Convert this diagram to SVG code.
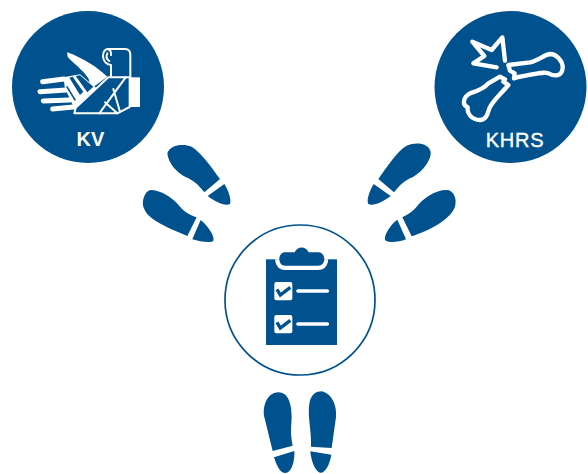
<svg xmlns="http://www.w3.org/2000/svg" width="588" height="474" viewBox="0 0 588 474">
<style>
.b{fill:#00528f}
.w{fill:#fff}
.ws{fill:none;stroke:#fff;stroke-linecap:round;stroke-linejoin:round}
.t{fill:#fff;font-family:"Liberation Sans",Arial,sans-serif;text-anchor:middle}
</style>
<rect width="588" height="474" fill="#fff"/>
<g id="connectors">
<g class="b" transform="translate(135 135) scale(.3333)">
<path d="M208,172L255,132C225,90 195,50 170,35C145,25 105,28 97,55C100,85 125,115 160,130C180,140 195,155 208,172Z"/>
<path d="M218,183L268,147C280,165 290,195 285,207C270,215 240,200 218,183Z"/>
<path d="M157,303L185,247C165,240 150,232 135,215C115,190 80,165 45,165C30,170 20,195 25,215C35,245 60,262 157,303Z"/>
<path d="M172,313L197,255C215,270 240,300 235,318C225,325 195,320 172,313Z"/>
</g>
<g class="b" transform="translate(360 135) scale(.3333)">
<path d="M55,132L102,172C115,155 130,140 150,130C185,115 215,75 212,50C205,25 170,20 140,32C110,50 85,90 55,132Z"/>
<path d="M41,147L92,183C70,200 40,215 25,207C18,195 30,165 41,147Z"/>
<path d="M127,247L155,304C210,285 270,255 285,215C292,190 280,165 260,165C225,165 190,190 170,215C160,228 145,238 127,247Z"/>
<path d="M112,254L138,313C115,322 85,325 75,315C70,300 95,265 112,254Z"/>
</g>
<g class="b" transform="translate(250 384) scale(.3333)">
<path d="M68,201L42,95C38,60 55,25 85,25C115,25 125,60 125,100C124,130 120,145 128,185Z"/>
<path d="M72,220L133,201C135,230 125,268 105,267C90,268 78,240 72,220Z"/>
<path d="M183,188C185,140 172,100 178,60C182,30 200,22 215,22C245,28 262,65 258,100L245,192Z"/>
<path d="M181,202L244,212C240,240 225,268 210,266C195,262 183,230 181,202Z"/>
</g>
</g>
<g id="node-kv">
<circle class="b" cx="88" cy="87" r="76"/>
<g transform="translate(30 45) scale(.3333)">
<path class="w" d="M112,22Q108,35 125,48C150,70 165,85 175,100L185,130L232,95C200,65 160,40 112,22Z"/>
<path class="ws" stroke-width="15" d="M38,110L102,102M30,140L108,135M40,168L118,165M68,192L130,186"/>
<path class="w" d="M100,97L150,88L200,130L135,195L105,130Z"/>
<path class="b" d="M118,98L128,95L160,140L150,150ZM137,93L150,91L190,125L172,142Z"/>
<path fill="none" stroke="#00528f" stroke-width="5" d="M110,124L136,166"/>
<path class="ws" stroke-width="6" d="M301,97V30Q301,12 285,12H232Q219,15 219,35Q222,58 243,60V97M232,12Q245,15 243,30M232,25Q225,40 238,48"/>
<path class="w" d="M296,97H330V186H296Z"/>
<path class="b" stroke="#fff" stroke-width="6" stroke-linejoin="round" d="M133,205L137,188L235,97H299V186L262,205Z"/>
<path class="ws" stroke-width="6" d="M287,97L208,205M250,132L270,200M225,172L252,196L262,205"/>
</g>
<text class="t" x="90.500" y="146" font-size="20" font-weight="700">KV</text>
</g>
<g id="node-khrs">
<circle class="b" cx="510.500" cy="87" r="76"/>
<g class="ws" transform="translate(455 30) scale(.3333)" style="stroke-width:13">
<path d="M150,92L142,22L110,60L52,35L88,78L55,100L125,112"/>
<path d="M160,105L225,97C250,92 265,75 285,72C305,72 325,95 323,115C320,140 300,140 280,130C265,124 240,132 190,141L177,145L179,130L165,122Z"/>
<path d="M135,140L100,160C85,178 60,185 45,190C25,200 20,225 38,232C35,250 50,270 75,270C92,270 97,255 102,238C108,218 135,195 160,165L145,155L150,148Z"/>
</g>
<text class="t" x="515" y="146.500" font-size="20" letter-spacing=".7" stroke="#fff" stroke-width=".4">KHRS</text>
</g>
<g id="node-checklist">
<circle cx="300" cy="300" r="75" fill="#fff" stroke="#00528f" stroke-width="1.700"/>
<g transform="translate(220 220) scale(.3333)">
<rect class="b" x="138" y="118" width="213" height="257"/>
<path class="w" d="M166,118H324V125Q318,150 295,150H195Q172,150 166,125Z"/>
<path class="b" d="M195,97H224C232,78 258,78 266,97H295C306,97 313,107 313,117C313,130 304,137 295,137H195C186,137 178,130 178,117C178,107 184,97 195,97Z"/>
<rect class="w" x="163" y="186" width="54" height="55" rx="6"/>
<rect class="w" x="163" y="285" width="54" height="55" rx="6"/>
<path class="ws" stroke-width="11" d="M234,213H322M234,312H322"/>
<path fill="none" stroke="#00528f" stroke-width="10" d="M171,208L181,225L211,202M171,307L181,324L211,301"/>
</g>
</g>
</svg>
